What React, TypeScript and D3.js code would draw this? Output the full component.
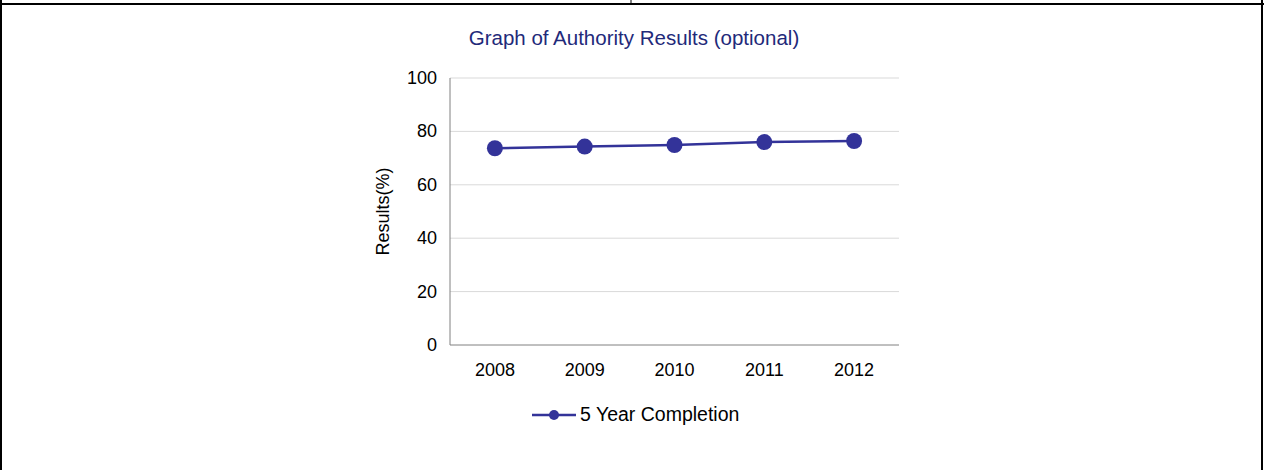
import * as d3 from "d3";

const YEARS = ["2008", "2009", "2010", "2011", "2012"];
const COMPLETION = [73.7, 74.3, 74.9, 76.0, 76.4];
const Y_TICKS = [0, 20, 40, 60, 80, 100];

const W = 1264;
const H = 470;
const NAVY = "#333399";
const FONT = "Liberation Sans, Arial, sans-serif";

export default function App() {
  const x = d3.scaleBand().domain(YEARS).range([450, 899]);
  const y = d3.scaleLinear().domain([0, 100]).range([345, 78]);
  const line = d3.line<number>()
    .x((_, i) => x(YEARS[i])! + x.bandwidth() / 2)
    .y(d => y(d));

  return (
    <svg width={W} height={H} style={{ position: "absolute", left: 0, top: 0, background: "#fff" }}>
      {/* page frame */}
      <line x1={0} x2={W} y1={4} y2={4} stroke="#000" strokeWidth={2} />
      <line x1={1} x2={1} y1={0} y2={H} stroke="#000" strokeWidth={2} />
      <line x1={1262} x2={1262} y1={0} y2={H} stroke="#000" strokeWidth={2} />
      <line x1={631} x2={631} y1={0} y2={4} stroke="#000" strokeWidth={1} />

      <text x={634} y={45} textAnchor="middle" fontFamily={FONT} fontSize={20.5} fill="#1F2A7A">
        Graph of Authority Results (optional)
      </text>

      {Y_TICKS.map(t => (
        <g key={t}>
          {t > 0 && <line x1={450} x2={899} y1={y(t)} y2={y(t)} stroke="#d9d9d9" />}
          <text x={437} y={y(t) + 6} textAnchor="end" fontFamily={FONT} fontSize={18} fill="#000">{t}</text>
        </g>
      ))}
      <line x1={450} x2={450} y1={78} y2={345} stroke="#808080" />
      <line x1={450} x2={899} y1={345} y2={345} stroke="#808080" />

      {YEARS.map(yr => (
        <text key={yr} x={x(yr)! + x.bandwidth() / 2} y={376} textAnchor="middle" fontFamily={FONT} fontSize={18} fill="#000">{yr}</text>
      ))}

      <text transform={`translate(389,${y(50)}) rotate(-90)`} textAnchor="middle" fontFamily={FONT} fontSize={18} fill="#000">Results(%)</text>

      <path d={line(COMPLETION)!} fill="none" stroke={NAVY} strokeWidth={2.5} />
      {COMPLETION.map((v, i) => (
        <circle key={i} cx={x(YEARS[i])! + x.bandwidth() / 2} cy={y(v)} r={8} fill={NAVY} />
      ))}

      {/* legend */}
      <line x1={532} x2={576} y1={415} y2={415} stroke={NAVY} strokeWidth={2.5} />
      <circle cx={554} cy={415} r={5} fill={NAVY} />
      <text x={580} y={421} fontFamily={FONT} fontSize={19.5} fill="#000">5 Year Completion</text>
    </svg>
  );
}
